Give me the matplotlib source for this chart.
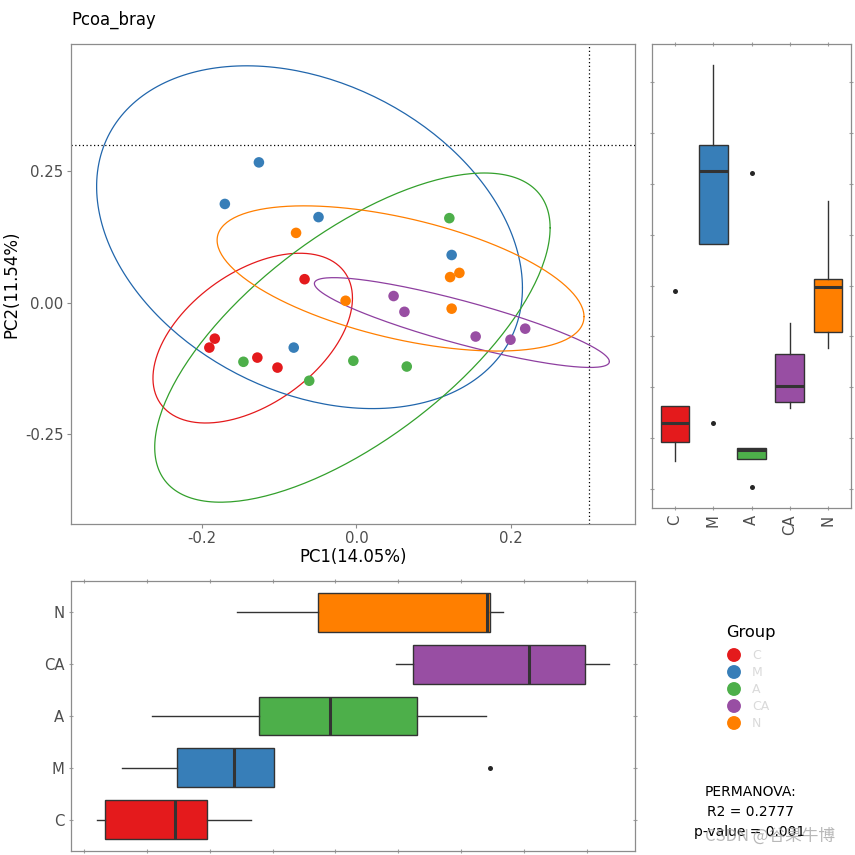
import numpy as np
import matplotlib
matplotlib.use("Agg")
import matplotlib.pyplot as plt

# ---------------- data ----------------
groups = ["C", "M", "A", "CA", "N"]
group_colors = ["#E41A1C", "#377EB8", "#4DAF4A", "#984EA3", "#FF7F00"]
ellipse_colors = ["#E41A1C", "#2166AC", "#33A02C", "#8E3FA0", "#FF7F00"]

pc1_C = [-0.067, -0.183, -0.190, -0.128, -0.102]
pc2_C = [0.045, -0.068, -0.085, -0.104, -0.123]
pc1_M = [-0.126, -0.170, -0.049, 0.123, -0.081]
pc2_M = [0.267, 0.188, 0.163, 0.091, -0.085]
pc1_A = [-0.146, -0.061, -0.004, 0.065, 0.120]
pc2_A = [-0.112, -0.148, -0.110, -0.121, 0.161]
pc1_CA = [0.048, 0.062, 0.154, 0.199, 0.218]
pc2_CA = [0.013, -0.017, -0.064, -0.070, -0.049]
pc1_N = [-0.078, -0.014, 0.121, 0.133, 0.123]
pc2_N = [0.133, 0.004, 0.049, 0.057, -0.011]

pc1 = {"C": pc1_C, "M": pc1_M, "A": pc1_A, "CA": pc1_CA, "N": pc1_N}
pc2 = {"C": pc2_C, "M": pc2_M, "A": pc2_A, "CA": pc2_CA, "N": pc2_N}

ref_line = 0.3
main_xticks = [-0.2, 0.0, 0.2]
main_xticklabels = ["-0.2", "0.0", "0.2"]
main_yticks = [-0.25, 0.0, 0.25]
main_yticklabels = ["-0.25", "0.00", "0.25"]

title_text = "Pcoa_bray"
xlab = "PC1(14.05%)"
ylab = "PC2(11.54%)"
legend_title = "Group"
perm_lines = ["PERMANOVA:", "R2 = 0.2777", "p-value = 0.001"]
watermark = "CSDN @谷果牛博"
level = 0.95


# ------------- normal data ellipse (ellipse::ellipse style) -------------
def ellipse_path(xs, ys, level=0.95, npoints=240):
    data = np.column_stack([xs, ys])
    center = data.mean(axis=0)
    cov = np.cov(data, rowvar=False)
    t = np.sqrt(-2.0 * np.log(1.0 - level))  # sqrt(qchisq(level, 2))
    R = np.linalg.cholesky(cov).T
    ang = np.linspace(0, 2 * np.pi, npoints)
    circ = np.column_stack([np.cos(ang), np.sin(ang)])
    e = center + t * (circ @ R)
    return e[:, 0], e[:, 1]


# ---------------- figure ----------------
W = H = 855
fig = plt.figure(figsize=(8.55, 8.55), dpi=100)
fig.patch.set_facecolor("white")


def px_axes(l, t, r, b):
    return fig.add_axes([l / W, 1 - b / H, (r - l) / W, (b - t) / H])


frame_col = "#8C8C8C"
tick_col = "#4D4D4D"
tick_fs = 10.7
title_fs = 11.9

ax = px_axes(71, 44, 635, 524)
axr = px_axes(652, 44, 851, 508)
axb = px_axes(71, 581, 635, 851)

# ---- main PCoA panel ----
allx, ally = [ref_line], [ref_line]
for g, c, ec in zip(groups, group_colors, ellipse_colors):
    ex, ey = ellipse_path(pc1[g], pc2[g], level)
    ax.plot(ex, ey, color=ec, lw=0.9, zorder=2, solid_joinstyle="round",
            solid_capstyle="round")
    allx += list(ex) + pc1[g]
    ally += list(ey) + pc2[g]
for g, c in zip(groups, group_colors):
    ax.scatter(pc1[g], pc2[g], s=58, color=c, edgecolors="none", zorder=3)

ax.axhline(ref_line, color="black", lw=0.9, ls=(0, (1, 2)), zorder=1)
ax.axvline(ref_line, color="black", lw=0.9, ls=(0, (1, 2)), zorder=1)

xr = max(allx) - min(allx)
yr = max(ally) - min(ally)
ax.set_xlim(min(allx) - 0.05 * xr, max(allx) + 0.05 * xr)
ax.set_ylim(min(ally) - 0.05 * yr, max(ally) + 0.05 * yr)
ax.set_xticks(main_xticks)
ax.set_xticklabels(main_xticklabels)
ax.set_yticks(main_yticks)
ax.set_yticklabels(main_yticklabels)
ax.tick_params(direction="out", length=2.8, width=0.8, color=frame_col,
               labelcolor=tick_col, labelsize=tick_fs, pad=2.5)

for a in (ax, axr, axb):
    for s in a.spines.values():
        s.set_color(frame_col)
        s.set_linewidth(0.9)
    a.set_facecolor("white")

fig.text(71 / W, 1 - 20 / H, title_text, fontsize=title_fs, ha="left", va="center")
fig.text(353 / W, 1 - 557 / H, xlab, fontsize=title_fs, ha="center", va="center")
fig.text(11 / W, 1 - 284 / H, ylab, fontsize=title_fs, ha="center", va="center",
         rotation=90)

# ---- box plot styling ----
box_kw = dict(
    widths=0.75, patch_artist=True, showcaps=False, whis=1.5,
    flierprops=dict(marker="o", markersize=3.6, markerfacecolor="#262626",
                    markeredgecolor="none"),
    medianprops=dict(color="#333333", lw=2.2),
    boxprops=dict(edgecolor="#333333", lw=1.0),
    whiskerprops=dict(color="#333333", lw=1.0),
)
positions = np.arange(1, len(groups) + 1)

# ---- right panel: PC2 by group ----
bp = axr.boxplot([pc2[g] for g in groups], positions=positions, **box_kw)
for patch, c in zip(bp["boxes"], group_colors):
    patch.set_facecolor(c)
all2 = np.concatenate([pc2[g] for g in groups])
r2 = all2.max() - all2.min()
axr.set_ylim(all2.min() - 0.05 * r2, all2.max() + 0.05 * r2)
axr.set_xlim(0.4, len(groups) + 0.6)
axr.set_xticks(positions)
axr.set_xticklabels(groups, rotation=90, va="top", ha="center")
axr.set_yticks(np.arange(-0.15, 0.2501, 0.05))
axr.tick_params(axis="y", left=True, right=True, labelleft=False,
                direction="inout", length=3.5, width=0.8, color="#A0A0A0")
axr.tick_params(axis="x", bottom=True, top=True, direction="inout", length=3.5,
                width=0.8, color="#A0A0A0", labelcolor=tick_col,
                labelsize=tick_fs, pad=3)

# ---- bottom panel: PC1 by group ----
bb = axb.boxplot([pc1[g] for g in groups], positions=positions,
                 orientation="horizontal", **box_kw)
for patch, c in zip(bb["boxes"], group_colors):
    patch.set_facecolor(c)
all1 = np.concatenate([pc1[g] for g in groups])
r1 = all1.max() - all1.min()
axb.set_xlim(all1.min() - 0.05 * r1, all1.max() + 0.05 * r1)
axb.set_ylim(0.4, len(groups) + 0.6)
axb.set_yticks(positions)
axb.set_yticklabels(groups)
axb.set_xticks(np.arange(-0.2, 0.2001, 0.05))
axb.tick_params(axis="x", bottom=True, top=True, labelbottom=False,
                direction="inout", length=3.5, width=0.8, color="#A0A0A0")
axb.tick_params(axis="y", left=True, right=True, direction="inout",
                length=3.5, width=0.8, color="#A0A0A0", labelcolor=tick_col,
                labelsize=tick_fs, pad=3)

# ---- legend + stats ----
lg = px_axes(652, 581, 851, 851)
lg.set_xlim(652, 851)
lg.set_ylim(851, 581)
lg.axis("off")
lg.text(751, 632, legend_title, fontsize=11.7, ha="center", va="center")
for i, (g, c) in enumerate(zip(groups, group_colors)):
    yy = 655 + 17 * i
    lg.scatter([734], [yy], s=100, color=c, edgecolors="none")
    lg.text(752, yy, g, fontsize=9, color="#DADADA", ha="left", va="center")
for i, t in enumerate(perm_lines):
    lg.text(750, 792 + 20 * i, t, fontsize=10, ha="center", va="center")

fig.text(770 / W, 1 - 836 / H, watermark, fontsize=12, color="#A0A0A0",
         alpha=0.75, ha="center", va="center",
         family=["Noto Sans CJK SC", "DejaVu Sans"])

fig.savefig("out.png", dpi=100, facecolor="white")
